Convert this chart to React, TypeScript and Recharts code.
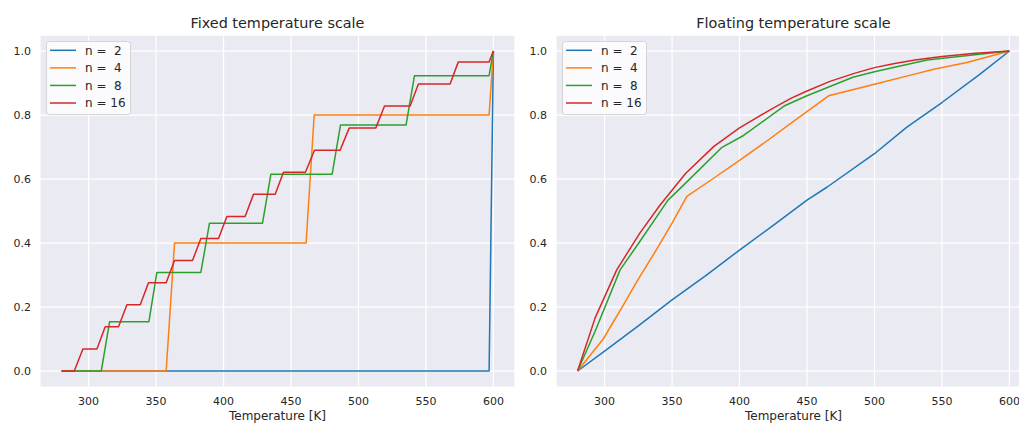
import React from 'react';
import { LineChart, Line, XAxis, YAxis, CartesianGrid, Legend } from 'recharts';

type Pt = [number, number];

const temperatureTicks = [300, 350, 400, 450, 500, 550, 600];
const fractionTicks = [0, 0.2, 0.4, 0.6, 0.8, 1.0];
const seriesLabels = ['n =  2', 'n =  4', 'n =  8', 'n = 16'];
const panelTitles = ['Fixed temperature scale', 'Floating temperature scale'];
const xAxisLabel = 'Temperature [K]';

const fixedN2: Pt[] = [[280, 0], [596.8, 0], [600, 1]];
const fixedN4: Pt[] = [[280, 0], [357.5, 0], [363.7, 0.4], [461.2, 0.4], [467.2, 0.8], [596.8, 0.8], [600, 1]];
const fixedN8: Pt[] = [
  [280, 0], [309.4, 0], [315.6, 0.154], [344.7, 0.154], [350.6, 0.308], [383.2, 0.308],
  [389.6, 0.462], [428.9, 0.462], [435.1, 0.615], [480.5, 0.615], [486.7, 0.769],
  [535.3, 0.769], [541.5, 0.923], [596.8, 0.923], [600, 1],
];
const fixedN16: Pt[] = [
  [280, 0], [289.4, 0], [295.8, 0.069], [306.2, 0.069], [312.3, 0.138], [322.2, 0.138],
  [328.4, 0.207], [338.3, 0.207], [344.4, 0.276], [357.5, 0.276], [363.7, 0.345], [377, 0.345],
  [383.2, 0.414], [396.3, 0.414], [402.5, 0.483], [416, 0.483], [422.2, 0.552], [438.3, 0.552],
  [444.4, 0.621], [460.7, 0.621], [467.4, 0.69], [486.4, 0.69], [493.1, 0.759], [512.8, 0.759],
  [519.3, 0.828], [538.3, 0.828], [544.4, 0.897], [567.9, 0.897], [574, 0.966], [596.8, 0.966],
  [600, 1],
];

const floatN2: Pt[] = [
  [280, 0], [300, 0.062], [325, 0.141], [350, 0.222], [375, 0.298], [400, 0.378], [425, 0.455],
  [450, 0.534], [465, 0.575], [500, 0.679], [524, 0.762], [550, 0.839], [578, 0.927], [600, 1],
];
const floatN4: Pt[] = [
  [280, 0], [299, 0.1], [314, 0.207], [324, 0.28], [339, 0.383], [350, 0.462], [361, 0.546],
  [380, 0.6], [400, 0.658], [420, 0.718], [440, 0.78], [466, 0.86], [500, 0.896],
  [529, 0.927], [544, 0.943], [568.5, 0.964], [600, 1],
];
const floatN8: Pt[] = [
  [280, 0], [293, 0.124], [311.5, 0.316], [326, 0.404], [347, 0.534], [361, 0.591], [387, 0.699],
  [403, 0.736], [433, 0.828], [450, 0.86], [484, 0.918], [500, 0.935], [519, 0.953], [539, 0.972],
  [554, 0.979], [578, 0.99], [600, 1],
];
const floatN16: Pt[] = [
  [280, 0], [293, 0.166], [309, 0.316], [326, 0.43], [341, 0.518], [360, 0.617], [381, 0.702],
  [400, 0.76], [423, 0.817], [438, 0.852], [450, 0.875], [467, 0.905], [485, 0.93], [500, 0.948],
  [515, 0.961], [530, 0.972], [550, 0.983], [575, 0.993], [600, 1],
];

const fixedSeries = [fixedN2, fixedN4, fixedN8, fixedN16];
const floatSeries = [floatN2, floatN4, floatN8, floatN16];

const colors = ['#1f77b4', '#ff7f0e', '#2ca02c', '#d62728'];
const FONT = "'DejaVu Sans', sans-serif";
const TEXT = '#262626';

const toRows = (pts: Pt[]) => pts.map(([x, y]) => ({ x, y }));

function LegendBox() {
  return (
    <svg width={86} height={75} style={{ display: 'block', overflow: 'visible' }}>
      <rect x={0.5} y={0.5} width={84} height={73} rx={3} fill="#ffffff" fillOpacity={0.8} stroke="#cccccc" strokeOpacity={0.8} />
      {seriesLabels.map((label, i) => {
        const cy = 9.3 + i * 17.57;
        return (
          <g key={label}>
            <line x1={4} x2={30} y1={cy} y2={cy} stroke={colors[i]} strokeWidth={1.5} />
            <text x={39} y={cy + 4.3} fontSize={12} fontFamily={FONT} fill={TEXT} style={{ whiteSpace: 'pre' }}>
              {label}
            </text>
          </g>
        );
      })}
    </svg>
  );
}

function Panel({ series, left }: { series: Pt[][]; left: number }) {
  return (
    <div style={{ position: 'absolute', left, top: 0 }}>
      <LineChart width={515} height={424} margin={{ top: 35, right: 0, bottom: 0, left: 0 }}>
        <CartesianGrid fill="#EAEAF2" stroke="#ffffff" strokeWidth={1.25} />
        <XAxis
          type="number"
          dataKey="x"
          domain={[264, 616]}
          ticks={temperatureTicks}
          allowDataOverflow
          axisLine={false}
          tickLine={false}
          tickSize={0}
          tickMargin={10}
          height={37}
          tick={{ fontSize: 11, fontFamily: FONT, fill: TEXT }}
          label={{ value: xAxisLabel, position: 'insideBottom', offset: 4, fontSize: 12, fontFamily: FONT, fill: TEXT }}
        />
        <YAxis
          type="number"
          domain={[-0.05, 1.05]}
          ticks={fractionTicks}
          allowDataOverflow
          axisLine={false}
          tickLine={false}
          tickSize={0}
          tickMargin={9}
          width={40}
          tickFormatter={(v: number) => v.toFixed(1)}
          tick={{ fontSize: 11, fontFamily: FONT, fill: TEXT }}
        />
        {series.map((pts, i) => (
          <Line
            key={seriesLabels[i]}
            data={toRows(pts)}
            dataKey="y"
            name={seriesLabels[i]}
            type="linear"
            stroke={colors[i]}
            strokeWidth={1.5}
            strokeLinejoin="round"
            dot={false}
            activeDot={false}
            isAnimationActive={false}
          />
        ))}
        <Legend
          layout="horizontal"
          verticalAlign="middle"
          align="center"
          wrapperStyle={{ left: 46, top: 41, width: 86, height: 75 }}
          content={() => <LegendBox />}
        />
      </LineChart>
    </div>
  );
}

export default function App() {
  return (
    <div style={{ position: 'absolute', left: 0, top: 0, width: 1019, height: 424, overflow: 'hidden', background: '#ffffff' }}>
      <Panel series={fixedSeries} left={0} />
      <Panel series={floatSeries} left={516} />
      <svg width={1019} height={424} style={{ position: 'absolute', left: 0, top: 0, pointerEvents: 'none' }}>
        <text x={277.5} y={27.5} textAnchor="middle" fontSize={14.4} fontFamily={FONT} fill={TEXT}>{panelTitles[0]}</text>
        <text x={793.5} y={27.5} textAnchor="middle" fontSize={14.4} fontFamily={FONT} fill={TEXT}>{panelTitles[1]}</text>
      </svg>
    </div>
  );
}
